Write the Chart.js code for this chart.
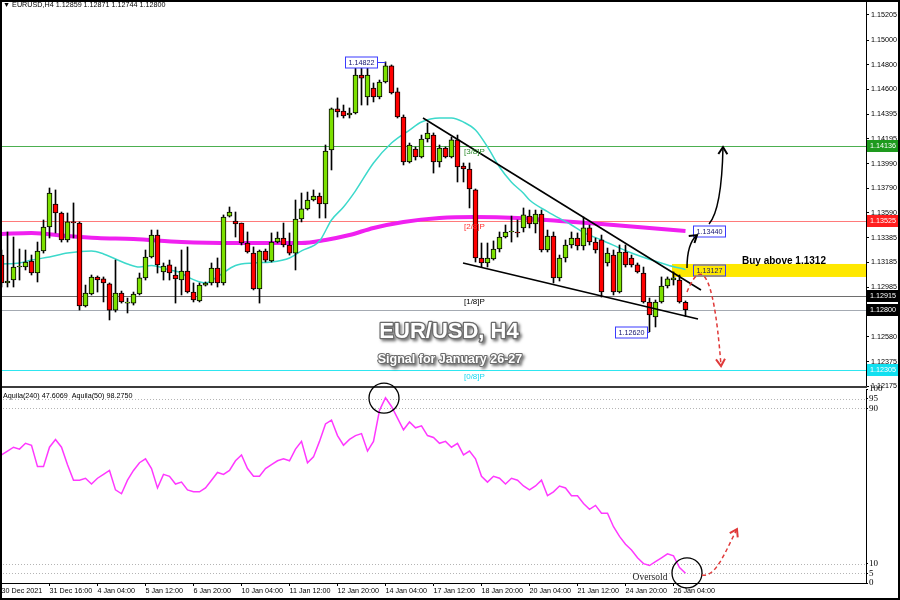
<!DOCTYPE html>
<html>
<head>
<meta charset="utf-8">
<script src="https://cdn.jsdelivr.net/npm/chart.js@4.4.1/dist/chart.umd.min.js"></script>
<style>
html,body{margin:0;padding:0;background:#fff;}
#wrap{position:relative;width:900px;height:600px;overflow:hidden;background:#fff;}
#wrap canvas{position:absolute;left:0;top:0;}
</style>
</head>
<body>
<div id="wrap">
<canvas id="mainChart" width="900" height="600"></canvas>
<canvas id="oscChart" width="900" height="600"></canvas>
</div>
<script>
// ================= DATA =================
const symbolName = 'EURUSD,H4';

const opens = [1.13246,1.13018,1.13042,1.13148,1.13148,1.13197,1.13099,1.13279,1.13475,1.13662,
 1.13589,1.13369,1.13516,1.13507,1.12830,1.12928,1.13067,1.13051,1.13010,1.12797,
 1.12936,1.12854,1.12854,1.12928,1.13059,1.13230,1.13409,1.13108,1.13165,1.13083,
 1.13042,1.13116,1.12944,1.12871,1.13001,1.13018,1.13140,1.13018,1.13564,1.13524,
 1.13507,1.13344,1.13262,1.12969,1.13279,1.13197,1.13352,1.13385,1.13328,1.13262,
 1.13540,1.13622,1.13695,1.13728,1.13662,1.14103,1.14438,1.14421,1.14389,1.14405,
 1.14715,1.14536,1.14609,1.14536,1.14658,1.14789,1.14577,1.14372,1.14005,1.14111,
 1.14046,1.14193,1.14225,1.14005,1.14119,1.14046,1.14185,1.13972,1.13948,1.13777,
 1.13222,1.13181,1.13214,1.13295,1.13393,1.13434,1.13434,1.13467,1.13564,1.13499,
 1.13581,1.13287,1.13401,1.13059,1.13222,1.13328,1.13385,1.13320,1.13467,1.13352,
 1.13369,1.13181,1.13246,1.12944,1.13271,1.13222,1.13165,1.13099,1.12863,1.12740,
 1.12863,1.12993,1.13042,1.13042,1.12859];

const highs = [1.13287,1.13434,1.13393,1.13295,1.13287,1.13246,1.13352,1.13532,1.13793,1.13777,
 1.13597,1.13589,1.13671,1.13516,1.13001,1.13083,1.13075,1.13067,1.13018,1.13205,
 1.12952,1.12895,1.12944,1.13099,1.13287,1.13450,1.13450,1.13181,1.13205,1.13148,
 1.13287,1.13312,1.13018,1.13018,1.13026,1.13181,1.13222,1.13573,1.13638,1.13597,
 1.13507,1.13434,1.13312,1.13287,1.13295,1.13426,1.13434,1.13507,1.13426,1.13695,
 1.13752,1.13760,1.13777,1.13752,1.14144,1.14446,1.14528,1.14470,1.14446,1.14780,
 1.14780,1.14789,1.14650,1.14674,1.14822,1.14797,1.14609,1.14389,1.14160,1.14128,
 1.14225,1.14323,1.14242,1.14144,1.14128,1.14209,1.14225,1.13997,1.13997,1.13785,
 1.13344,1.13344,1.13361,1.13434,1.13491,1.13564,1.13532,1.13630,1.13613,1.13613,
 1.13613,1.13450,1.13434,1.13246,1.13369,1.13434,1.13426,1.13556,1.13491,1.13385,
 1.13409,1.13303,1.13287,1.13328,1.13328,1.13246,1.13181,1.13148,1.12895,1.12879,
 1.13067,1.13067,1.13108,1.13083,1.12871];

const lows = [1.12985,1.12985,1.12985,1.13042,1.13124,1.13083,1.13026,1.13262,1.13385,1.13426,
 1.13352,1.13352,1.13385,1.12797,1.12822,1.12920,1.12944,1.12863,1.12716,1.12781,
 1.12854,1.12773,1.12838,1.12920,1.13042,1.13222,1.13099,1.13042,1.13042,1.12854,
 1.12920,1.12936,1.12863,1.12863,1.12993,1.13001,1.12985,1.13001,1.13556,1.13393,
 1.13328,1.13262,1.12961,1.12854,1.13189,1.13189,1.13344,1.13312,1.13246,1.13124,
 1.13516,1.13613,1.13687,1.13548,1.13548,1.13940,1.14372,1.14364,1.14364,1.14397,
 1.14470,1.14470,1.14495,1.14520,1.14650,1.14560,1.14364,1.13981,1.13997,1.14021,
 1.14038,1.14168,1.13915,1.13964,1.14038,1.14038,1.13842,1.13842,1.13630,1.13189,
 1.13148,1.13148,1.13205,1.13271,1.13385,1.13352,1.13393,1.13434,1.13467,1.13426,
 1.13271,1.13271,1.13018,1.13034,1.13189,1.13303,1.13287,1.13287,1.13328,1.13262,
 1.12903,1.13156,1.12920,1.12936,1.13148,1.13148,1.13099,1.12854,1.12620,1.12659,
 1.12854,1.12977,1.13001,1.12854,1.12744];

const closes = [1.13018,1.13034,1.13148,1.13156,1.13189,1.13099,1.13279,1.13475,1.13752,1.13589,
 1.13369,1.13516,1.13507,1.12830,1.12936,1.13067,1.13042,1.13018,1.12797,1.12936,
 1.12863,1.12860,1.12928,1.13059,1.13230,1.13409,1.13165,1.13156,1.13099,1.13051,
 1.13116,1.12944,1.12879,1.13001,1.13018,1.13140,1.13018,1.13556,1.13597,1.13499,
 1.13344,1.13271,1.12969,1.13279,1.13205,1.13352,1.13385,1.13328,1.13262,1.13540,
 1.13622,1.13695,1.13728,1.13662,1.14095,1.14438,1.14413,1.14381,1.14405,1.14715,
 1.14690,1.14715,1.14536,1.14658,1.14789,1.14568,1.14372,1.14005,1.14144,1.14046,
 1.14193,1.14242,1.14005,1.14119,1.14046,1.14185,1.13964,1.13948,1.13785,1.13222,
 1.13181,1.13222,1.13295,1.13393,1.13434,1.13440,1.13426,1.13573,1.13499,1.13581,
 1.13287,1.13401,1.13059,1.13222,1.13328,1.13385,1.13320,1.13467,1.13352,1.13287,
 1.12944,1.13262,1.12944,1.13271,1.13165,1.13165,1.13108,1.12863,1.12757,1.12863,
 1.12993,1.13051,1.13059,1.12863,1.12800];

const timeTickIndex = [0,8,16,24,32,40,48,56,64,72,80,88,96,104,112];
const timeTickLabels = ['30 Dec 2021','31 Dec 16:00','4 Jan 04:00','5 Jan 12:00','6 Jan 20:00','10 Jan 04:00','11 Jan 12:00','12 Jan 20:00','14 Jan 04:00','17 Jan 12:00','18 Jan 20:00','20 Jan 04:00','21 Jan 12:00','24 Jan 20:00','26 Jan 04:00'];

const priceTicks = [1.15205,1.15000,1.14800,1.14600,1.14395,1.14195,1.13990,1.13790,1.13590,1.13385,1.13185,1.12985,1.12780,1.12580,1.12375,1.12175];

// fast MA (cyan) read at bar indices
const maFastIndex = [0,3,5,8,11,15,17,19,21,23,25,28,30,31,34,36,39,42,45,48,50,53,55,57,59,62,65,68,70,73,75,77,79,81,83,85,87,88,91,95,97,100,105,111,114];
const maFastValue = [1.13173,1.13181,1.13205,1.13230,1.13262,1.13279,1.13255,1.13214,1.13173,1.13148,1.13160,1.13124,1.13099,1.13067,1.13018,1.13070,1.13160,1.13181,1.13189,1.13222,1.13280,1.13360,1.13532,1.13638,1.13770,1.13997,1.14160,1.14266,1.14331,1.14364,1.14364,1.14331,1.14266,1.14128,1.13964,1.13840,1.13750,1.13695,1.13600,1.13491,1.13430,1.13369,1.13262,1.13165,1.13127];

// slow MA (magenta) read at bar indices
const maSlowIndex = [0,5,11,16,22,30,39,50,54,58,62,67,73,79,86,93,100,108,114];
const maSlowValue = [1.13418,1.13426,1.13401,1.13385,1.13377,1.13352,1.13344,1.13344,1.13369,1.13409,1.13467,1.13516,1.13548,1.13556,1.13548,1.13524,1.13499,1.13467,1.13442];

// horizontal levels: Murrey lines, bid
const levelPrices = [1.14136, 1.13525, 1.12915, 1.12800, 1.12305];
const murreyNames = ['[3/8]P','[2/8]P','[1/8]P','[0/8]P'];
const murreyPrices = [1.14136, 1.13525, 1.12915, 1.12305];
const murreyLabelIndex = 77.08;

// trend lines (bar index, price)
const upperTrendIndex = [70.25, 116.58];
const upperTrendPrice = [1.14364, 1.12961];
const lowerTrendIndex = [76.92, 116.08];
const lowerTrendPrice = [1.13181, 1.12724];

// price tags
const tagPrices = [1.14822, 1.12620, 1.13440, 1.13127];
const tagIndex = [57.25, 102.25, 115.25, 115.25];
const tagLinkIndex = [64, 108, null, null];

// buy zone
const buyZoneStartIndex = 111.75;
const buyZoneTop = 1.13173;
const buyZoneBottom = 1.13067;
const buyText = 'Buy above 1.1312';
const buyTextIndex = 123.42;
const buyTextPrice = 1.13197;

// arrows (cubic bezier control points: bar index, price)
const arrowSmallIndex = [114.25, 114.25, 114.92, 115.92];
const arrowSmallPrice = [1.13140, 1.13271, 1.13369, 1.13409];
const arrowBigIndex = [117.92, 119.08, 120.08, 120.25];
const arrowBigPrice = [1.13499, 1.13564, 1.13736, 1.14127];
const arrowDownIndex = [114.25, 116.25, 118.58, 119.92];
const arrowDownPrice = [1.12944, 1.13189, 1.13205, 1.12340];

const titleMain = 'EUR/USD, H4';
const titleSub = 'Signal for January 26-27';

// oscillator
const aquila50 = [66,68,70,69,72,71,60,60,70,74,
 70,61,53,53,54,51,54,56,58,48,
 46,53,58,62,64,59,49,56,55,51,
 52,48,47,47,49,53,57,56,58,63,
 66,59,55,55,59,61,63,64,63,69,
 73,62,65,73,82,84,76,71,74,76,
 77,68,73,89,95.5,91,85,79,83,80,
 81,76,75,72,73,70,72,66,68,64,
 55,52,55,54,51,54,53,50,48,50,
 53,45,47,50,49,45,45,41,38,40,
 36,36,29,24,20,17,13,10,9,11,
 13,15,14,8,5];
const oscTicks = [0,5,10,90,95,100];
const oscLevels = [95,90,10,5];
const oscLegend = 'Aquila(240) 47.6069  Aquila(50) 98.2750';
const oscCircleIndex = [63.75, 114.25];
const oscCircleValue = [95.3, 5.2];
const oscArrowIndex = [116.75, 119.08, 120.75, 122.58];
const oscArrowValue = [4.1, 2.6, 17.0, 27.8];
const oversoldText = 'Oversold';
const oversoldIndex = 108.08;
const oversoldValue = 2.6;

// ================= STYLE / LAYOUT =================
const probe = document.createElement('canvas').getContext('2d');
probe.font = "20px 'Liberation Sans Narrow', monospace";
const wNarrow = probe.measureText('1.12345 Dec').width;
probe.font = "20px 'Liberation Sans', monospace";
const wReg = probe.measureText('1.12345 Dec').width;
const hasNarrow = wNarrow < wReg * 0.92;
const AXIS_FAMILY = hasNarrow ? "'Liberation Sans Narrow', 'Liberation Sans', sans-serif" : "'Liberation Sans', sans-serif";
const AXIS_SIZE = hasNarrow ? 8.5 : 7.2;
const AXIS_FONT_STR = AXIS_SIZE + 'px ' + AXIS_FAMILY;

Chart.defaults.font.family = "'Liberation Sans', Arial, sans-serif";
Chart.defaults.color = '#000';

const UP = '#7CE000', DOWN = '#FF0000';
const LEVEL_LINE_COLORS = ['#4CAF50', '#FF7A7A', '#6E6E6E', '#A4AAB2', '#2EE6F0'];
const LEVEL_TAG_COLORS = ['#1E9A1E', '#FF1E1E', '#000000', '#000000', '#12E0F0'];
const MURREY_COLORS = ['#2E8B2E', '#FF3030', '#000000', '#1AD8F0'];

const PANEL_RIGHT = 866;
const MAIN_BOTTOM = 386;
const OSC_TOP = 389;
const OSC_BOTTOM = 583;
const X_MIN = -0.25;
const X_MAX = X_MIN + PANEL_RIGHT / 6;
const Y_MAX = 1.15327;
const Y_MIN = Y_MAX - MAIN_BOTTOM * 0.0000816;

function bez(ctx, p, color, width, dash) {
  ctx.save();
  ctx.strokeStyle = color; ctx.lineWidth = width; ctx.setLineDash(dash || []);
  ctx.beginPath(); ctx.moveTo(p[0].x, p[0].y);
  ctx.bezierCurveTo(p[1].x, p[1].y, p[2].x, p[2].y, p[3].x, p[3].y);
  ctx.stroke();
  ctx.setLineDash([]);
  const ang = Math.atan2(p[3].y - p[2].y, p[3].x - p[2].x);
  const L = 7, W = 4.5;
  ctx.beginPath();
  ctx.moveTo(p[3].x - L * Math.cos(ang) + W * Math.sin(ang), p[3].y - L * Math.sin(ang) - W * Math.cos(ang));
  ctx.lineTo(p[3].x, p[3].y);
  ctx.lineTo(p[3].x - L * Math.cos(ang) - W * Math.sin(ang), p[3].y - L * Math.sin(ang) + W * Math.cos(ang));
  ctx.lineWidth = width + 0.5;
  ctx.stroke();
  ctx.restore();
}

const mainDecor = {
  id: 'mainDecor',
  beforeDatasetsDraw(chart) {
    const {ctx, chartArea: a} = chart; const xs = chart.scales.x, ys = chart.scales.y;
    ctx.save();
    ctx.beginPath(); ctx.rect(a.left, a.top, a.right - a.left, a.bottom - a.top); ctx.clip();
    const zx = xs.getPixelForValue(buyZoneStartIndex);
    const zt = ys.getPixelForValue(buyZoneTop), zb = ys.getPixelForValue(buyZoneBottom);
    ctx.fillStyle = '#FFE800';
    ctx.fillRect(zx, zt, a.right - zx, zb - zt);
    levelPrices.forEach((p, k) => {
      const py = Math.round(ys.getPixelForValue(p)) + 0.5;
      ctx.strokeStyle = LEVEL_LINE_COLORS[k]; ctx.lineWidth = 1;
      ctx.beginPath(); ctx.moveTo(a.left, py); ctx.lineTo(a.right, py); ctx.stroke();
    });
    ctx.restore();
  },
  afterDatasetsDraw(chart) {
    const {ctx} = chart; const xs = chart.scales.x, ys = chart.scales.y;
    ctx.save();
    // murrey labels
    ctx.font = "8px 'Liberation Sans', sans-serif";
    ctx.textAlign = 'left'; ctx.textBaseline = 'top';
    murreyNames.forEach((t, k) => {
      ctx.fillStyle = MURREY_COLORS[k];
      ctx.fillText(t, xs.getPixelForValue(murreyLabelIndex), ys.getPixelForValue(murreyPrices[k]) + 2);
    });
    // price tags
    tagPrices.forEach((p, k) => {
      const bx = Math.round(xs.getPixelForValue(tagIndex[k])) + 0.5;
      const by = Math.round(ys.getPixelForValue(p)) + 0.5;
      const w = 32, h = 11;
      if (tagLinkIndex[k] !== null) {
        ctx.strokeStyle = '#3A3AFF'; ctx.lineWidth = 1;
        ctx.beginPath(); ctx.moveTo(bx + w, by); ctx.lineTo(xs.getPixelForValue(tagLinkIndex[k]), by); ctx.stroke();
      }
      ctx.fillStyle = k === 3 ? '#FFE800' : '#FFFFFF';
      ctx.fillRect(bx, by - h / 2, w, h);
      ctx.strokeStyle = '#3A3AFF'; ctx.lineWidth = 1;
      ctx.strokeRect(bx, by - h / 2, w, h);
      ctx.fillStyle = '#141470';
      ctx.font = AXIS_FONT_STR; ctx.textBaseline = 'middle'; ctx.textAlign = 'left';
      ctx.fillText(p.toFixed(5), bx + 3, by + 0.5);
    });
    // buy text
    ctx.fillStyle = '#000';
    ctx.font = "bold 10px 'Liberation Sans', sans-serif";
    ctx.textBaseline = 'middle'; ctx.textAlign = 'left';
    ctx.fillText(buyText, xs.getPixelForValue(buyTextIndex), ys.getPixelForValue(buyTextPrice));
    // arrows
    const pts = (ia, pa) => ia.map((v, k) => ({x: xs.getPixelForValue(v), y: ys.getPixelForValue(pa[k])}));
    bez(ctx, pts(arrowSmallIndex, arrowSmallPrice), '#000', 1.5);
    bez(ctx, pts(arrowBigIndex, arrowBigPrice), '#000', 1.5);
    bez(ctx, pts(arrowDownIndex, arrowDownPrice), '#E03A3A', 1.5, [4, 3]);
    // title
    ctx.textAlign = 'center'; ctx.textBaseline = 'middle';
    const drawEmboss = (txt, font, cx, cy, lw) => {
      ctx.font = font;
      ctx.shadowColor = 'rgba(0,0,0,0.55)'; ctx.shadowBlur = 3; ctx.shadowOffsetX = 2; ctx.shadowOffsetY = 2;
      ctx.lineWidth = lw; ctx.strokeStyle = '#6A6A6A'; ctx.lineJoin = 'round';
      ctx.strokeText(txt, cx, cy);
      ctx.shadowColor = 'transparent';
      ctx.fillStyle = '#FFFFFF';
      ctx.fillText(txt, cx, cy);
    };
    drawEmboss(titleMain, "bold 22px 'Liberation Sans', sans-serif", 449, 332, 2.5);
    drawEmboss(titleSub, "bold 12.5px 'Liberation Sans', sans-serif", 450, 360, 2);
    ctx.restore();
  },
  afterDraw(chart) {
    const {ctx} = chart; const ys = chart.scales.y;
    ctx.save();
    ctx.font = AXIS_FONT_STR; ctx.textBaseline = 'middle'; ctx.textAlign = 'left';
    levelPrices.forEach((p, k) => {
      const py = Math.round(ys.getPixelForValue(p));
      ctx.fillStyle = LEVEL_TAG_COLORS[k];
      ctx.fillRect(PANEL_RIGHT + 1, py - 6, 32, 12);
      ctx.fillStyle = '#FFFFFF';
      ctx.fillText(p.toFixed(5), PANEL_RIGHT + 4, py + 0.5);
    });
    // header
    const last = opens.length - 1;
    ctx.fillStyle = '#000';
    ctx.fillText('\u25BC ' + symbolName + ' ' + [opens[last], highs[last], lows[last], closes[last]].map(v => v.toFixed(5)).join(' '), 3, 5);
    ctx.restore();
  }
};

const idx = opens.map((_, i) => i);

new Chart(document.getElementById('mainChart'), {
  type: 'bar',
  data: {
    datasets: [
      {type: 'line', data: maSlowIndex.map((x, k) => ({x, y: maSlowValue[k]})), borderColor: '#F020F0', borderWidth: 4, pointRadius: 0, cubicInterpolationMode: 'monotone', order: 6},
      {type: 'line', data: maFastIndex.map((x, k) => ({x, y: maFastValue[k]})), borderColor: '#3CD9CB', borderWidth: 1.5, pointRadius: 0, cubicInterpolationMode: 'monotone', order: 5},
      {type: 'bar', data: idx.map(i => ({x: i, y: [lows[i], highs[i]]})), backgroundColor: '#000', barThickness: 1, grouped: false, order: 4},
      {type: 'bar', data: idx.map(i => ({x: i, y: [opens[i], closes[i]]})), backgroundColor: idx.map(i => closes[i] >= opens[i] ? UP : DOWN), borderColor: '#000', borderWidth: 1, borderSkipped: false, barThickness: 5, minBarLength: 1, grouped: false, order: 3},
      {type: 'line', data: upperTrendIndex.map((x, k) => ({x, y: upperTrendPrice[k]})), borderColor: '#000', borderWidth: 1.6, pointRadius: 0, order: 1},
      {type: 'line', data: lowerTrendIndex.map((x, k) => ({x, y: lowerTrendPrice[k]})), borderColor: '#000', borderWidth: 1.6, pointRadius: 0, order: 1}
    ]
  },
  options: {
    responsive: false, animation: false, events: [],
    layout: {padding: {left: 0, right: 0, top: 0, bottom: 600 - MAIN_BOTTOM}},
    plugins: {legend: {display: false}, tooltip: {enabled: false}, title: {display: false}},
    scales: {
      x: {type: 'linear', min: X_MIN, max: X_MAX, display: false, offset: false, grid: {offset: false}},
      y: {
        type: 'linear', position: 'right', min: Y_MIN, max: Y_MAX, beginAtZero: false,
        afterBuildTicks: ax => { ax.ticks = priceTicks.map(v => ({value: v})); },
        afterFit: ax => { ax.width = 900 - PANEL_RIGHT; ax.paddingTop = 0; ax.paddingBottom = 0; },
        ticks: {autoSkip: false, padding: 2, font: {family: AXIS_FAMILY, size: AXIS_SIZE}, color: '#000', callback: v => Number(v).toFixed(5)},
        grid: {drawOnChartArea: false, drawTicks: true, tickLength: 3, color: '#000'},
        border: {display: true, color: '#000', width: 1}
      }
    }
  },
  plugins: [mainDecor]
});

const oscDecor = {
  id: 'oscDecor',
  beforeDatasetsDraw(chart) {
    const {ctx, chartArea: a} = chart; const ys = chart.scales.y;
    ctx.save();
    ctx.strokeStyle = '#B4B4B4'; ctx.lineWidth = 1; ctx.setLineDash([1, 2]);
    oscLevels.forEach(v => {
      const py = Math.round(ys.getPixelForValue(v)) + 0.5;
      ctx.beginPath(); ctx.moveTo(a.left, py); ctx.lineTo(a.right, py); ctx.stroke();
    });
    ctx.restore();
  },
  afterDraw(chart) {
    const {ctx} = chart; const xs = chart.scales.x, ys = chart.scales.y;
    ctx.save();
    // separator between panels
    ctx.fillStyle = '#3C3C3C';
    ctx.fillRect(0, MAIN_BOTTOM, PANEL_RIGHT + 1, 2);
    // circles
    ctx.strokeStyle = '#000'; ctx.lineWidth = 1.3;
    oscCircleIndex.forEach((v, k) => {
      ctx.beginPath();
      ctx.arc(xs.getPixelForValue(v), ys.getPixelForValue(oscCircleValue[k]), 15, 0, Math.PI * 2);
      ctx.stroke();
    });
    // red dashed arrow
    bez(ctx, oscArrowIndex.map((v, k) => ({x: xs.getPixelForValue(v), y: ys.getPixelForValue(oscArrowValue[k])})), '#E03A3A', 1.5, [4, 3]);
    // oversold text
    ctx.fillStyle = '#222';
    ctx.font = "9.5px 'Liberation Serif', serif";
    ctx.textAlign = 'center'; ctx.textBaseline = 'middle';
    ctx.fillText(oversoldText, xs.getPixelForValue(oversoldIndex), ys.getPixelForValue(oversoldValue));
    // legend
    ctx.fillStyle = '#000';
    ctx.font = AXIS_FONT_STR; ctx.textAlign = 'left';
    ctx.fillText(oscLegend, 3, OSC_TOP + 7);
    // frame
    ctx.strokeStyle = '#000'; ctx.lineWidth = 2;
    ctx.strokeRect(1, 1, 898, 598);
    ctx.restore();
  }
};

new Chart(document.getElementById('oscChart'), {
  type: 'line',
  data: {
    datasets: [
      {data: aquila50.map((v, i) => ({x: i, y: v})), borderColor: '#FF38FF', borderWidth: 1.5, pointRadius: 0, tension: 0}
    ]
  },
  options: {
    responsive: false, animation: false, events: [],
    layout: {padding: {left: 0, right: 0, top: OSC_TOP, bottom: 0}},
    plugins: {legend: {display: false}, tooltip: {enabled: false}, title: {display: false}},
    scales: {
      x: {
        type: 'linear', min: X_MIN, max: X_MAX, offset: false,
        afterBuildTicks: ax => { ax.ticks = timeTickIndex.map(v => ({value: v})); },
        afterFit: ax => { ax.height = 600 - OSC_BOTTOM; ax.paddingLeft = 0; ax.paddingRight = 0; },
        ticks: {autoSkip: false, maxRotation: 0, minRotation: 0, align: 'start', padding: 1, font: {family: AXIS_FAMILY, size: AXIS_SIZE}, color: '#000', callback: (v, k) => timeTickLabels[k]},
        grid: {drawOnChartArea: false, drawTicks: true, tickLength: 3, color: '#000'},
        border: {display: true, color: '#000', width: 1}
      },
      y: {
        type: 'linear', position: 'right', min: 0, max: 100,
        afterBuildTicks: ax => { ax.ticks = oscTicks.map(v => ({value: v})); },
        afterFit: ax => { ax.width = 900 - PANEL_RIGHT; ax.paddingTop = 0; ax.paddingBottom = 0; },
        ticks: {autoSkip: false, padding: 1, font: {family: "'Liberation Serif', serif", size: 9}, color: '#000'},
        grid: {drawOnChartArea: false, drawTicks: true, tickLength: 2, color: '#000'},
        border: {display: true, color: '#000', width: 1}
      }
    }
  },
  plugins: [oscDecor]
});
</script>
</body>
</html>
